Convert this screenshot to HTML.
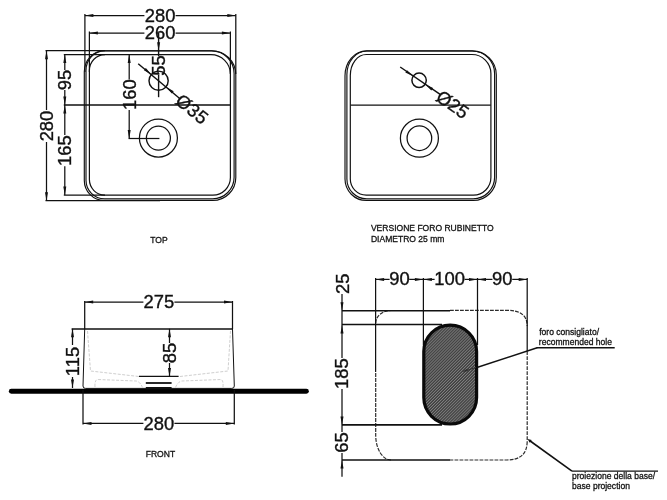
<!DOCTYPE html>
<html><head><meta charset="utf-8"><title>Drawing</title>
<style>
html,body{margin:0;padding:0;background:#fff;}
body{width:667px;height:500px;overflow:hidden;}
svg{display:block;filter:blur(0.35px);}
text{font-family:"Liberation Sans",sans-serif;}
</style></head><body>
<svg width="667" height="500" viewBox="0 0 667 500">
<rect width="667" height="500" fill="#fff"/>
<path d="M104.3,50.7 L211.8,50.7 A24,24 0 0 1 235.8,74.7 L235.8,177.5 A23,23 0 0 1 212.8,200.5 L104.3,200.5 A20,20 0 0 1 84.3,180.5 L84.3,71.7 A20,21 0 0 1 104.3,50.7 Z" fill="none" stroke="#111" stroke-width="1.15"/>
<path d="M104.5,50.9 L211.6,50.9 A22.5,22.5 0 0 1 234.1,73.4 L234.1,177.3 A21.5,21.5 0 0 1 212.6,198.8 L104.5,198.8 A18.5,18.5 0 0 1 86,180.3 L86,70.4 A18.5,19.5 0 0 1 104.5,50.9 Z" fill="none" stroke="#111" stroke-width="1.15"/>
<path d="M104.9,54.6 L210.9,54.6 A19.5,19.5 0 0 1 230.4,74.1 L230.4,177.6 A17.5,17.5 0 0 1 212.9,195.1 L104.9,195.1 A15.5,15.5 0 0 1 89.4,179.6 L89.4,70.6 A15.5,16 0 0 1 104.9,54.6 Z" fill="none" stroke="#111" stroke-width="1.2"/>
<line x1="84.9" y1="14" x2="84.9" y2="72" stroke="#111" stroke-width="1.25" />
<line x1="235.8" y1="14" x2="235.8" y2="74" stroke="#111" stroke-width="1.25" />
<line x1="89.4" y1="31.5" x2="89.4" y2="72" stroke="#111" stroke-width="1.25" />
<line x1="230.4" y1="31.5" x2="230.4" y2="74" stroke="#111" stroke-width="1.25" />
<line x1="84.9" y1="15.5" x2="144.4" y2="15.5" stroke="#111" stroke-width="1.25" />
<line x1="175.6" y1="15.5" x2="235.8" y2="15.5" stroke="#111" stroke-width="1.25" />
<polygon points="84.90,15.50 93.40,14.00 93.40,17.00" fill="#111"/>
<polygon points="235.80,15.50 227.30,17.00 227.30,14.00" fill="#111"/>
<text x="160.2" y="21.6" font-size="18.4" text-anchor="middle" fill="#111" stroke="#111" stroke-width="0.35" >280</text>
<line x1="89.4" y1="33" x2="144.4" y2="33" stroke="#111" stroke-width="1.25" />
<line x1="175.6" y1="33" x2="230.4" y2="33" stroke="#111" stroke-width="1.25" />
<polygon points="89.40,33.00 97.90,31.50 97.90,34.50" fill="#111"/>
<polygon points="230.40,33.00 221.90,34.50 221.90,31.50" fill="#111"/>
<text x="160.2" y="39.4" font-size="18.4" text-anchor="middle" fill="#111" stroke="#111" stroke-width="0.35" >260</text>
<line x1="45.5" y1="50.7" x2="105" y2="50.7" stroke="#111" stroke-width="1.25" />
<line x1="63.8" y1="54.6" x2="105" y2="54.6" stroke="#111" stroke-width="1.25" />
<line x1="45.5" y1="200.7" x2="160" y2="200.7" stroke="#111" stroke-width="1.25" />
<line x1="63.8" y1="195.1" x2="105" y2="195.1" stroke="#111" stroke-width="1.25" />
<line x1="46.5" y1="50.8" x2="46.5" y2="110" stroke="#111" stroke-width="1.25" />
<line x1="46.5" y1="142" x2="46.5" y2="200.7" stroke="#111" stroke-width="1.25" />
<polygon points="46.50,50.80 48.00,59.30 45.00,59.30" fill="#111"/>
<polygon points="46.50,200.70 45.00,192.20 48.00,192.20" fill="#111"/>
<text x="52.9" y="126" font-size="18.4" text-anchor="middle" fill="#111" stroke="#111" stroke-width="0.35" transform="rotate(-90 52.9 126)" >280</text>
<line x1="64.8" y1="54.6" x2="64.8" y2="70" stroke="#111" stroke-width="1.25" />
<line x1="64.8" y1="90" x2="64.8" y2="135" stroke="#111" stroke-width="1.25" />
<line x1="64.8" y1="166.2" x2="64.8" y2="195.1" stroke="#111" stroke-width="1.25" />
<polygon points="64.80,54.60 66.30,63.10 63.30,63.10" fill="#111"/>
<polygon points="64.80,105.00 63.30,96.50 66.30,96.50" fill="#111"/>
<polygon points="64.80,105.00 66.30,113.50 63.30,113.50" fill="#111"/>
<polygon points="64.80,195.10 63.30,186.60 66.30,186.60" fill="#111"/>
<text x="71.2" y="80" font-size="18.4" text-anchor="middle" fill="#111" stroke="#111" stroke-width="0.35" transform="rotate(-90 71.2 80)" >95</text>
<text x="71.2" y="150.7" font-size="18.4" text-anchor="middle" fill="#111" stroke="#111" stroke-width="0.35" transform="rotate(-90 71.2 150.7)" >165</text>
<line x1="63.8" y1="105" x2="230.4" y2="105" stroke="#111" stroke-width="1.35" />
<line x1="129.2" y1="54.6" x2="129.2" y2="79.5" stroke="#111" stroke-width="1.25" />
<line x1="129.2" y1="110" x2="129.2" y2="138.5" stroke="#111" stroke-width="1.25" />
<line x1="128.6" y1="138.5" x2="159.4" y2="138.5" stroke="#111" stroke-width="1.25" />
<polygon points="129.20,54.60 130.70,63.10 127.70,63.10" fill="#111"/>
<polygon points="129.20,138.50 127.70,130.00 130.70,130.00" fill="#111"/>
<text x="135.6" y="94.6" font-size="18.4" text-anchor="middle" fill="#111" stroke="#111" stroke-width="0.35" transform="rotate(-90 135.6 94.6)" >160</text>
<line x1="158.6" y1="32.8" x2="158.6" y2="56" stroke="#111" stroke-width="1.4" />
<line x1="158.6" y1="75" x2="158.6" y2="97.2" stroke="#111" stroke-width="1.4" />
<polygon points="158.60,50.70 157.10,42.20 160.10,42.20" fill="#111"/>
<text x="165.3" y="65.5" font-size="18.4" text-anchor="middle" fill="#111" stroke="#111" stroke-width="0.35" transform="rotate(-90 165.3 65.5)" >55</text>
<circle cx="158.6" cy="80.7" r="9.6" stroke="#111" stroke-width="1.45" fill="none"/>
<line x1="138.2" y1="63.8" x2="180" y2="98.8" stroke="#111" stroke-width="1.45" />
<polygon points="151.40,74.60 143.90,70.32 145.82,68.02" fill="#111"/>
<polygon points="166.20,86.90 173.70,91.18 171.78,93.48" fill="#111"/>
<text transform="translate(178.2 97.7) rotate(39.5)" x="0" y="6.4" font-size="18.4" text-anchor="start" letter-spacing="0.4" fill="#111" stroke="#111" stroke-width="0.35">Ø35</text>
<circle cx="158.4" cy="138.1" r="19.0" stroke="#111" stroke-width="1.25" fill="none"/>
<circle cx="158.4" cy="138.1" r="12.0" stroke="#111" stroke-width="1.25" fill="none"/>
<text transform="translate(159 242.5) scale(0.95 1)" font-size="9" text-anchor="middle" fill="#111" stroke="#111" stroke-width="0.3">TOP</text>
<path d="M366.5,50.8 L472.3,50.8 A24,24 0 0 1 496.3,74.8 L496.3,177.5 A23,23 0 0 1 473.3,200.5 L366.4,200.5 A21.4,21.4 0 0 1 345.0,179.1 L345.0,75.8 A21.5,25 0 0 1 366.5,50.8 Z" fill="none" stroke="#111" stroke-width="1.15"/>
<path d="M366.9,51.0 L472.1,51.0 A22.5,22.5 0 0 1 494.6,73.5 L494.6,177.3 A21.5,21.5 0 0 1 473.1,198.8 L366.79999999999995,198.8 A19.9,19.9 0 0 1 346.9,178.9 L346.9,74.5 A20,23.5 0 0 1 366.9,51.0 Z" fill="none" stroke="#111" stroke-width="1.15"/>
<path d="M366.3,54.5 L471.9,54.5 A19,19 0 0 1 490.9,73.5 L490.9,177.6 A17.5,17.5 0 0 1 473.4,195.1 L366.3,195.1 A16,16 0 0 1 350.3,179.1 L350.3,75.5 A16,21 0 0 1 366.3,54.5 Z" fill="none" stroke="#111" stroke-width="1.2"/>
<line x1="350.5" y1="105" x2="490.8" y2="105" stroke="#111" stroke-width="1.25" />
<circle cx="419.1" cy="80.3" r="7.2" stroke="#111" stroke-width="1.5" fill="none"/>
<circle cx="419.4" cy="138.2" r="19.0" stroke="#111" stroke-width="1.25" fill="none"/>
<circle cx="419.4" cy="138.2" r="12.3" stroke="#111" stroke-width="1.25" fill="none"/>
<line x1="400.2" y1="67" x2="440.5" y2="94.7" stroke="#111" stroke-width="1.45" />
<polygon points="413.20,76.20 405.35,72.62 407.04,70.15" fill="#111"/>
<polygon points="425.20,84.50 433.05,88.08 431.36,90.55" fill="#111"/>
<text transform="translate(438.4 94.4) rotate(35)" x="0" y="6.4" font-size="18.4" text-anchor="start" letter-spacing="0" fill="#111" stroke="#111" stroke-width="0.35">Ø25</text>
<text transform="translate(370.9 231.2) scale(0.95 1)" font-size="9" text-anchor="start" fill="#111" stroke="#111" stroke-width="0.3">VERSIONE FORO RUBINETTO</text>
<text transform="translate(370.9 241.5) scale(0.95 1)" font-size="9" text-anchor="start" fill="#111" stroke="#111" stroke-width="0.3">DIAMETRO 25 mm</text>
<line x1="11.3" y1="391.3" x2="306.4" y2="391.3" stroke="#000" stroke-width="4.9" stroke-linecap="round"/>
<line x1="71.6" y1="329" x2="232.5" y2="329" stroke="#111" stroke-width="1.4" />
<path d="M84.7,329 L83,386 Q83,388.4 85.5,388.4 L231.8,388.4 Q234.3,388.4 234.3,386 L232.5,329" fill="none" stroke="#111" stroke-width="1"/>
<line x1="84.7" y1="301" x2="84.7" y2="329" stroke="#111" stroke-width="1.25" />
<line x1="232.5" y1="301" x2="232.5" y2="329" stroke="#111" stroke-width="1.25" />
<line x1="83" y1="390" x2="83" y2="424.5" stroke="#111" stroke-width="1.25" />
<line x1="234.3" y1="390" x2="234.3" y2="424.5" stroke="#111" stroke-width="1.25" />
<line x1="84.7" y1="302.1" x2="143.4" y2="302.1" stroke="#111" stroke-width="1.25" />
<line x1="174.4" y1="302.1" x2="232.5" y2="302.1" stroke="#111" stroke-width="1.25" />
<polygon points="84.70,302.10 93.20,300.60 93.20,303.60" fill="#111"/>
<polygon points="232.50,302.10 224.00,303.60 224.00,300.60" fill="#111"/>
<text x="158.8" y="308.4" font-size="18.4" text-anchor="middle" fill="#111" stroke="#111" stroke-width="0.35" >275</text>
<line x1="83" y1="423.4" x2="143.4" y2="423.4" stroke="#111" stroke-width="1.25" />
<line x1="174.4" y1="423.4" x2="234.3" y2="423.4" stroke="#111" stroke-width="1.25" />
<polygon points="83.00,423.40 91.50,421.90 91.50,424.90" fill="#111"/>
<polygon points="234.30,423.40 225.80,424.90 225.80,421.90" fill="#111"/>
<text x="158.8" y="429.59999999999997" font-size="18.4" text-anchor="middle" fill="#111" stroke="#111" stroke-width="0.35" >280</text>
<line x1="72.5" y1="328.8" x2="72.5" y2="345" stroke="#111" stroke-width="1.25" />
<line x1="72.5" y1="377" x2="72.5" y2="388" stroke="#111" stroke-width="1.25" />
<polygon points="72.50,328.80 74.00,337.30 71.00,337.30" fill="#111"/>
<polygon points="72.50,388.00 71.00,379.50 74.00,379.50" fill="#111"/>
<text x="78.9" y="361.5" font-size="18.4" text-anchor="middle" fill="#111" stroke="#111" stroke-width="0.35" transform="rotate(-90 78.9 361.5)" >115</text>
<line x1="169.5" y1="328.8" x2="169.5" y2="343" stroke="#111" stroke-width="1.25" />
<line x1="169.5" y1="363" x2="169.5" y2="376.4" stroke="#111" stroke-width="1.25" />
<polygon points="169.50,328.80 171.00,337.30 168.00,337.30" fill="#111"/>
<polygon points="169.50,376.40 168.00,367.90 171.00,367.90" fill="#111"/>
<text x="175.9" y="353" font-size="18.4" text-anchor="middle" fill="#111" stroke="#111" stroke-width="0.35" transform="rotate(-90 175.9 353)" >85</text>
<line x1="138.9" y1="376.4" x2="178.6" y2="376.4" stroke="#111" stroke-width="1.3" />
<line x1="145.8" y1="383" x2="171.6" y2="383" stroke="#111" stroke-width="1.8" />
<line x1="145.8" y1="388.2" x2="171.6" y2="388.2" stroke="#111" stroke-width="2.4" />
<path d="M87.5,331 L90.5,371 L138.8,376.5 M180,376.5 L228,371 L230.5,331" fill="none" stroke="#cfcfcf" stroke-width="1" stroke-dasharray="3 1.5"/>
<path d="M95,387 Q94.5,380 97.5,379.5 L136,381 Q140,381.5 142.5,387.5 M175.5,387.5 Q178,381.5 182,381 L221,379.5 Q223.5,380 223,387" fill="none" stroke="#cfcfcf" stroke-width="1" stroke-dasharray="3 1.5"/>
<text transform="translate(160.4 457.3) scale(0.95 1)" font-size="9" text-anchor="middle" fill="#111" stroke="#111" stroke-width="0.3">FRONT</text>
<defs><pattern id="h" width="2.1" height="2.1" patternUnits="userSpaceOnUse" patternTransform="rotate(-45)"><rect width="2.1" height="2.1" fill="#3e3e3e"/><line x1="0" y1="0.5" x2="2.1" y2="0.5" stroke="#a0a0a0" stroke-width="0.6"/></pattern></defs>
<path d="M450,310.3 L507,310.3 Q527.2,310.3 527.2,326 M527.2,351.3 L527.2,441 Q527.2,460 507,460 L450,460 M391,460 A15.3,25 0 0 1 375.7,435 L375.7,372 M375.7,323 A15.3,12.5 0 0 1 391,310.5" fill="none" stroke="#2c2c2c" stroke-width="1.2" stroke-dasharray="3.8 1.2"/>
<line x1="375.6" y1="278" x2="375.6" y2="372" stroke="#111" stroke-width="1.25" />
<line x1="423.4" y1="278" x2="423.4" y2="345" stroke="#111" stroke-width="1.25" />
<line x1="477.5" y1="278" x2="477.5" y2="345" stroke="#111" stroke-width="1.25" />
<line x1="527.2" y1="278" x2="527.2" y2="351.3" stroke="#111" stroke-width="1.25" />
<polygon points="375.60,279.40 384.10,277.90 384.10,280.90" fill="#111"/>
<line x1="375.6" y1="279.4" x2="389.6" y2="279.4" stroke="#111" stroke-width="1.25" />
<line x1="409.2" y1="279.4" x2="423.4" y2="279.4" stroke="#111" stroke-width="1.25" />
<polygon points="423.40,279.40 414.90,280.90 414.90,277.90" fill="#111"/>
<polygon points="423.40,279.40 431.90,277.90 431.90,280.90" fill="#111"/>
<line x1="423.4" y1="279.4" x2="434.6" y2="279.4" stroke="#111" stroke-width="1.25" />
<line x1="464.6" y1="279.4" x2="477.5" y2="279.4" stroke="#111" stroke-width="1.25" />
<polygon points="477.50,279.40 469.00,280.90 469.00,277.90" fill="#111"/>
<polygon points="477.50,279.40 486.00,277.90 486.00,280.90" fill="#111"/>
<line x1="477.5" y1="279.4" x2="492.4" y2="279.4" stroke="#111" stroke-width="1.25" />
<line x1="512.2" y1="279.4" x2="527.2" y2="279.4" stroke="#111" stroke-width="1.25" />
<polygon points="527.20,279.40 518.70,280.90 518.70,277.90" fill="#111"/>
<text x="399.4" y="285.4" font-size="18.4" text-anchor="middle" fill="#111" stroke="#111" stroke-width="0.35" >90</text>
<text x="449.6" y="285.4" font-size="18.4" text-anchor="middle" fill="#111" stroke="#111" stroke-width="0.35" >100</text>
<text x="502.3" y="285.4" font-size="18.4" text-anchor="middle" fill="#111" stroke="#111" stroke-width="0.35" >90</text>
<line x1="342" y1="310.8" x2="450" y2="310.8" stroke="#111" stroke-width="1.5" />
<line x1="342" y1="324.6" x2="442" y2="324.6" stroke="#111" stroke-width="1.5" />
<line x1="342" y1="424.9" x2="442" y2="424.9" stroke="#111" stroke-width="1.6" />
<line x1="342" y1="460" x2="450" y2="460" stroke="#111" stroke-width="1.6" />
<line x1="342" y1="294" x2="342" y2="325" stroke="#111" stroke-width="1.25" />
<polygon points="342.00,310.80 340.50,302.30 343.50,302.30" fill="#111"/>
<text x="349.2" y="283.8" font-size="18.4" text-anchor="middle" fill="#111" stroke="#111" stroke-width="0.35" transform="rotate(-90 349.2 283.8)" >25</text>
<polygon points="342.00,325.00 343.50,333.50 340.50,333.50" fill="#111"/>
<line x1="342" y1="325" x2="342" y2="358" stroke="#111" stroke-width="1.25" />
<line x1="342" y1="389" x2="342" y2="425" stroke="#111" stroke-width="1.25" />
<polygon points="342.00,425.00 340.50,416.50 343.50,416.50" fill="#111"/>
<text x="348.4" y="373.6" font-size="18.4" text-anchor="middle" fill="#111" stroke="#111" stroke-width="0.35" transform="rotate(-90 348.4 373.6)" >185</text>
<line x1="342" y1="425" x2="342" y2="432" stroke="#111" stroke-width="1.25" />
<line x1="342" y1="453" x2="342" y2="476.8" stroke="#111" stroke-width="1.25" />
<polygon points="342.00,460.00 343.50,468.50 340.50,468.50" fill="#111"/>
<text x="348.4" y="442.5" font-size="18.4" text-anchor="middle" fill="#111" stroke="#111" stroke-width="0.35" transform="rotate(-90 348.4 442.5)" >65</text>
<line x1="470" y1="369.8" x2="537.2" y2="347.8" stroke="#111" stroke-width="1.5" />
<line x1="536.6" y1="347.8" x2="614.7" y2="347.8" stroke="#111" stroke-width="1.6" />
<rect x="423.8" y="325.2" width="52.8" height="98.8" rx="26.4" ry="26.4" fill="url(#h)" stroke="#0a0a0a" stroke-width="3.2"/>
<line x1="467" y1="370.3" x2="476" y2="367.4" stroke="#333" stroke-width="1" />
<polygon points="462.20,371.80 467.03,368.86 467.83,371.33" fill="#2e2e2e"/>
<text transform="translate(539.2 334.7) scale(0.95 1)" font-size="9" text-anchor="start" fill="#111" stroke="#111" stroke-width="0.3">foro consigliato/</text>
<text transform="translate(538.8 344.6) scale(0.95 1)" font-size="9" text-anchor="start" fill="#111" stroke="#111" stroke-width="0.3">recommended hole</text>
<line x1="529.5" y1="440.5" x2="572" y2="471.2" stroke="#111" stroke-width="1.6" />
<line x1="572" y1="471.2" x2="658" y2="471.2" stroke="#111" stroke-width="1.3" />
<polygon points="527.50,439.00 531.68,440.05 529.81,442.64" fill="#111"/>
<text transform="translate(572 478.8) scale(0.95 1)" font-size="9" text-anchor="start" fill="#111" stroke="#111" stroke-width="0.3">proiezione della base/</text>
<text transform="translate(572 489.2) scale(0.95 1)" font-size="9" text-anchor="start" fill="#111" stroke="#111" stroke-width="0.3">base projection</text>
</svg>
</body></html>
